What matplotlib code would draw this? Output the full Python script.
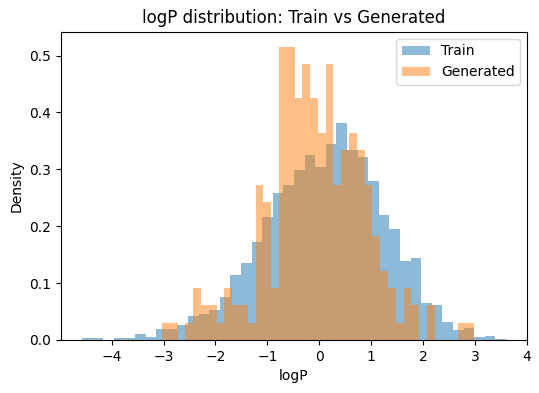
import matplotlib
matplotlib.use("Agg")
import matplotlib.pyplot as plt
import numpy as np

# ----------------------------
# Histogram data (density per bin, 40 bins each)
# ----------------------------
N_BINS = 40
train_range = (-4.57, 3.60)
gen_range = (-3.03, 2.98)

train_density = [
    0.003, 0.003, 0.000, 0.0035, 0.0035, 0.011, 0.005, 0.019, 0.019, 0.026,
    0.042, 0.046, 0.053, 0.076, 0.114, 0.135, 0.172, 0.216, 0.258, 0.272,
    0.299, 0.325, 0.304, 0.344, 0.381, 0.334, 0.322, 0.279, 0.220, 0.195,
    0.139, 0.144, 0.065, 0.061, 0.032, 0.017, 0.021, 0.005, 0.007, 0.002,
]

gen_density = [
    0.030, 0.030, 0.000, 0.030, 0.091, 0.061, 0.061, 0.030, 0.091, 0.061,
    0.061, 0.030, 0.273, 0.243, 0.091, 0.516, 0.516, 0.425, 0.486, 0.425,
    0.364, 0.486, 0.273, 0.334, 0.364, 0.334, 0.273, 0.182, 0.121, 0.091,
    0.030, 0.091, 0.061, 0.000, 0.061, 0.000, 0.000, 0.000, 0.030, 0.030,
]

train_edges = np.linspace(train_range[0], train_range[1], N_BINS + 1)
gen_edges = np.linspace(gen_range[0], gen_range[1], N_BINS + 1)

fig = plt.figure(figsize=(5.39, 3.93), dpi=100)
ax = fig.add_axes([0.113, 0.135, 0.865, 0.784])

ax.hist(train_edges[:-1], bins=train_edges, weights=train_density,
        alpha=0.5, label="Train")
ax.hist(gen_edges[:-1], bins=gen_edges, weights=gen_density,
        alpha=0.5, label="Generated")

ax.set_title("logP distribution: Train vs Generated")
ax.set_xlabel("logP")
ax.set_ylabel("Density")
ax.legend(loc="upper right")

fig.savefig("out.png", dpi=100)
